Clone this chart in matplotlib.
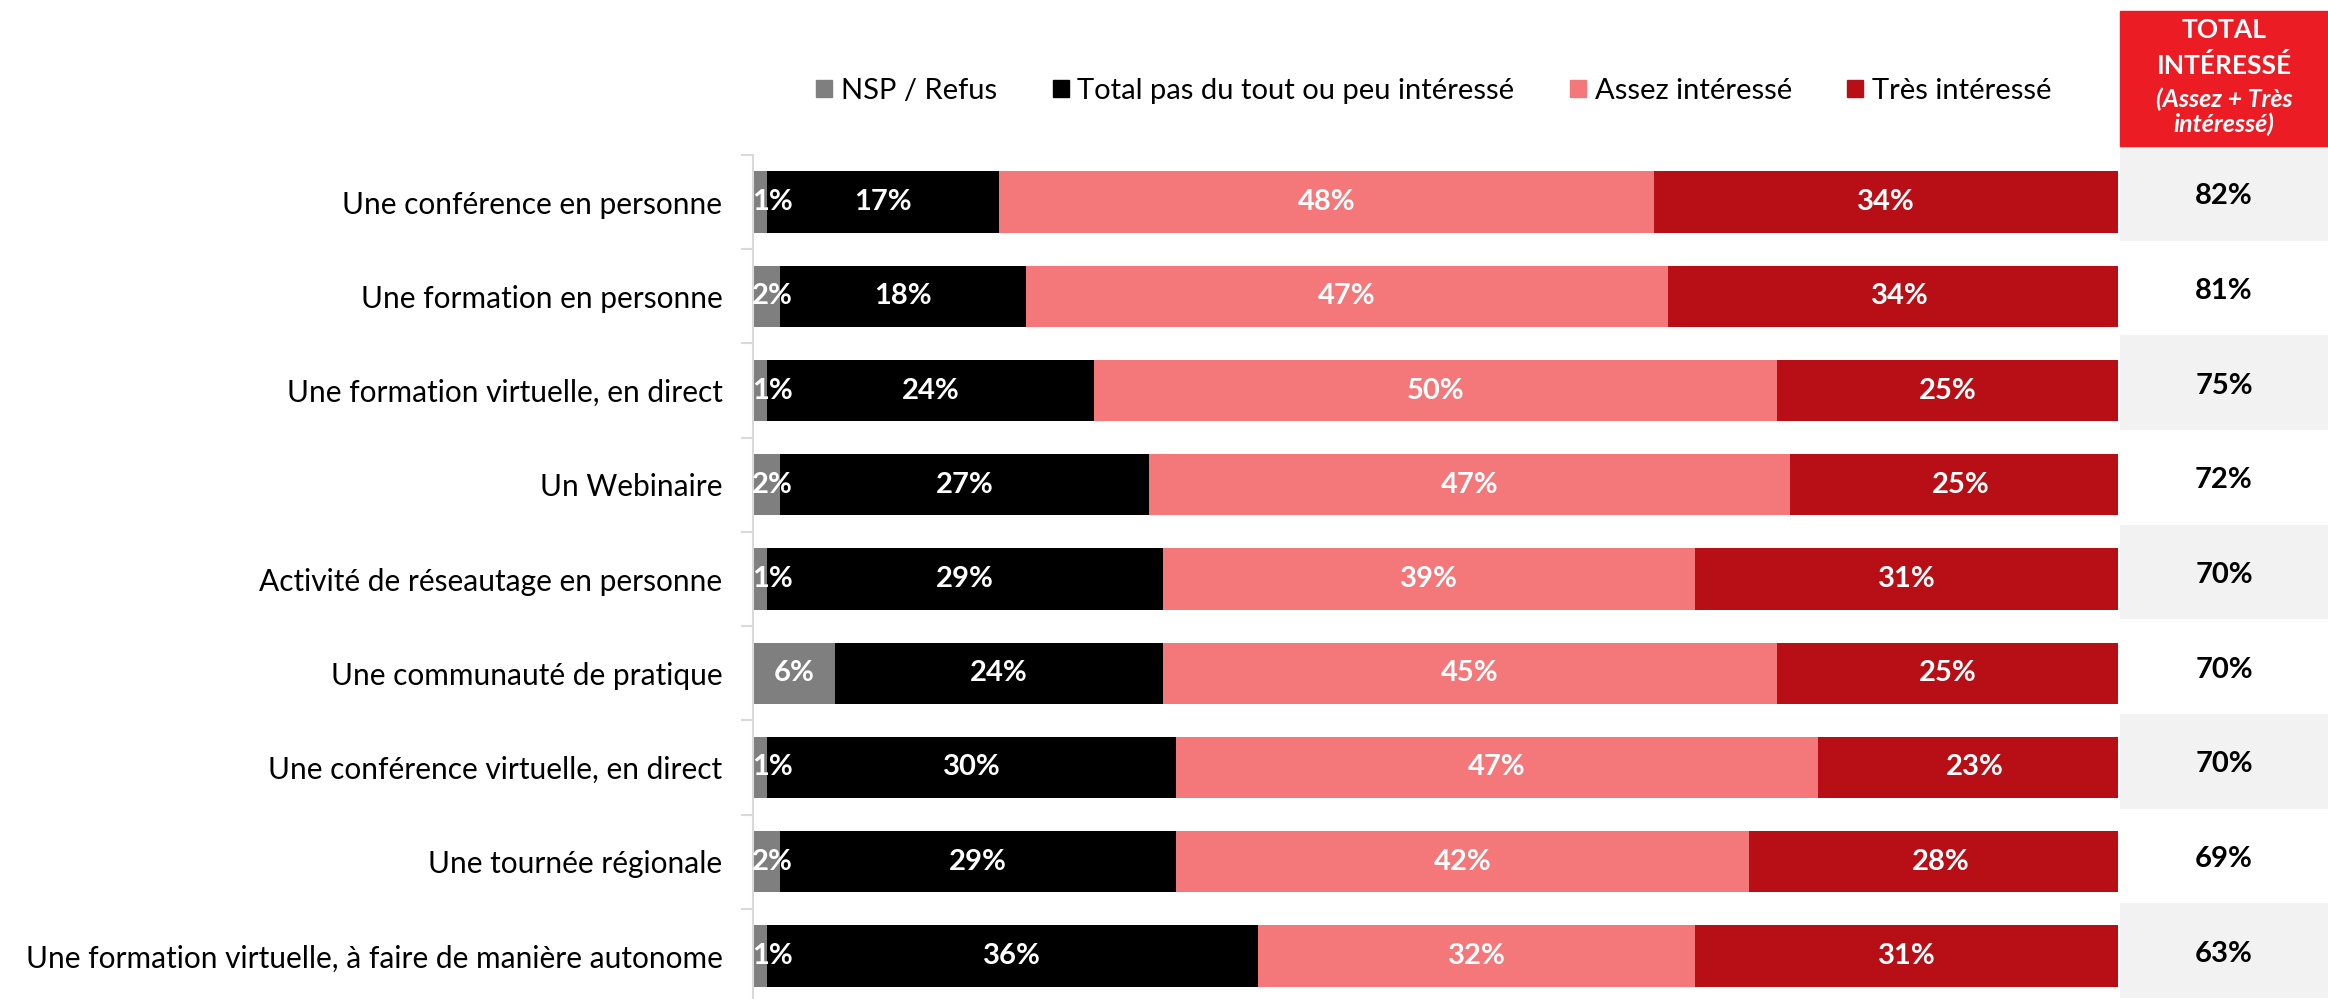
import numpy as np
import matplotlib
matplotlib.use("Agg")
from matplotlib import pyplot as plt
from matplotlib.patches import Patch, Rectangle

plt.rcParams["font.family"] = ["Lato", "DejaVu Sans"]

activities = [
    "Une conférence en personne",
    "Une formation en personne",
    "Une formation virtuelle, en direct",
    "Un Webinaire",
    "Activité de réseautage en personne",
    "Une communauté de pratique",
    "Une conférence virtuelle, en direct",
    "Une tournée régionale",
    "Une formation virtuelle, à faire de manière autonome",
]
nsp_refus = [1, 2, 1, 2, 1, 6, 1, 2, 1]
pas_interesse = [17, 18, 24, 27, 29, 24, 30, 29, 36]
assez_interesse = [48, 47, 50, 47, 39, 45, 47, 42, 32]
tres_interesse = [34, 34, 25, 25, 31, 25, 23, 28, 31]
total_interesse = [82, 81, 75, 72, 70, 70, 70, 69, 63]

series_names = ["NSP / Refus", "Total pas du tout ou peu intéressé",
                "Assez intéressé", "Très intéressé"]
colors = ["#7F7F7F", "#000000", "#F4777A", "#B80F16"]

W, H = 2328, 999
fig = plt.figure(figsize=(W / 100, H / 100), dpi=100)

# stacked bars
ax = fig.add_axes([753 / W, (H - 1003) / H, (2118 - 753) / W, 848 / H])
n = len(activities)
y = np.arange(n)
left = np.zeros(n)
for vals, name, color in zip([nsp_refus, pas_interesse, assez_interesse, tres_interesse],
                             series_names, colors):
    vals = np.array(vals, dtype=float)
    ax.barh(y, vals, left=left, height=0.65, color=color, label=name)
    for yi, l, v in zip(y, left, vals):
        ax.text(max(l + v / 2, 1.4), yi, f"{int(v)}%", color="white",
                fontsize=21, fontweight="bold", ha="center", va="center")
    left += vals

ax.set_xlim(0, 100)
ax.set_ylim(n - 0.5, -0.5)
ax.set_yticks(y)
ax.set_yticklabels(activities, fontsize=21.5)
ax.set_yticks(np.arange(-0.5, n, 1), minor=True)
ax.tick_params(axis="y", which="major", length=0, pad=22)
ax.tick_params(axis="y", which="minor", length=9, color="#D9D9D9", width=1.5)
ax.set_xticks([])
for side in ["top", "right", "bottom"]:
    ax.spines[side].set_visible(False)
ax.spines["left"].set_color("#D9D9D9")
ax.spines["left"].set_linewidth(1.5)

# total column on the right
ax2 = fig.add_axes([2120 / W, (H - 998) / H, 208 / W, 852 / H])
ax2.set_xlim(0, 1)
ax2.set_ylim(n - 0.5, -0.5)
shaded = [i for i in range(n) if i % 2 == 0]
ax2.barh(shaded, 1, height=1, left=0, color="#F2F2F2")
for i, v in enumerate(total_interesse):
    ax2.text(0.5, i + 0.03, f"{v}%", fontsize=21, fontweight="bold",
             ha="center", va="center", color="black")
ax2.axis("off")

fig.patches.append(Rectangle((2120 / W, (H - 146) / H), 208 / W, 135 / H,
                             transform=fig.transFigure, color="#EC1C24", zorder=0))
xc = 2224 / W
fig.text(xc, 1 - 30 / H, "TOTAL", color="white", fontsize=19,
         fontweight="bold", ha="center", va="center")
fig.text(xc, 1 - 65 / H, "INTÉRESSÉ", color="white", fontsize=19,
         fontweight="bold", ha="center", va="center")
fig.text(xc, 1 - 99 / H, "(Assez + Très", color="white", fontsize=18,
         fontweight="bold", fontstyle="italic", ha="center", va="center")
fig.text(xc, 1 - 124 / H, "intéressé)", color="white", fontsize=18,
         fontweight="bold", fontstyle="italic", ha="center", va="center")

handles = [Patch(color=c) for c in colors]
fig.legend(handles, series_names, loc="center", bbox_to_anchor=(1434 / W, 1 - 91 / H),
           ncol=4, frameon=False, fontsize=21, handlelength=0.55, handleheight=0.55,
           handletextpad=0.3, columnspacing=1.9)

fig.savefig("out.png", dpi=100)
